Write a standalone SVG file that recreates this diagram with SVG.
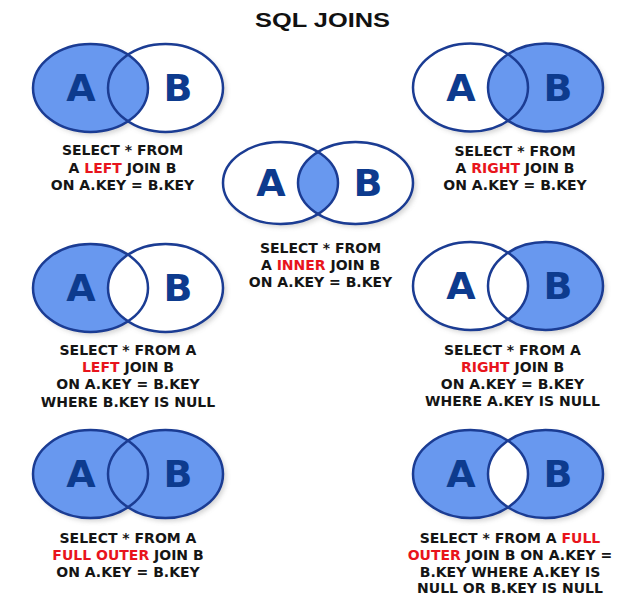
<svg xmlns="http://www.w3.org/2000/svg" xmlns:xlink="http://www.w3.org/1999/xlink" width="641" height="601" viewBox="0 0 641 601">
<style>
.bg{fill:#ffffff}
.fill{fill:#6898ef}
.white{fill:#ffffff}
.ol{fill:none;stroke:#1b3c93;stroke-width:2.5}
.shadow{fill:#9a9a9a;opacity:0.45}
.letter{font-family:"DejaVu Sans",Verdana,sans-serif;font-weight:bold;font-size:38px;fill:#0d3b8e;text-anchor:middle}
.cap{font-family:"DejaVu Sans",Verdana,sans-serif;font-weight:bold;font-size:14px;fill:#151515;text-anchor:middle}
.red{fill:#e8141c}
.title{font-family:"Liberation Sans",Arial,sans-serif;font-weight:bold;font-size:19.5px;fill:#111111;text-anchor:middle}
</style>
<defs>
<ellipse id="eA" cx="0" cy="0" rx="57.5" ry="44"/>
<ellipse id="eB" cx="75" cy="0" rx="57.5" ry="44"/>
<clipPath id="clipA"><ellipse cx="0" cy="0" rx="57.5" ry="44"/></clipPath>
<ellipse id="cA" cx="0" cy="0" rx="57.5" ry="41"/>
<ellipse id="cB" cx="75" cy="0" rx="57.5" ry="41"/>
<clipPath id="clipCA"><ellipse cx="0" cy="0" rx="57.5" ry="41"/></clipPath>
<filter id="blur" x="-20%" y="-20%" width="140%" height="140%"><feGaussianBlur stdDeviation="2.5"/></filter>
<g id="sh"><g class="shadow" filter="url(#blur)" transform="translate(3,3)"><use xlink:href="#eA"/><use xlink:href="#eB"/></g></g>
</defs>
<rect class="bg" x="0" y="0" width="641" height="601"/>
<text class="title" x="322.5" y="27" textLength="135" lengthAdjust="spacingAndGlyphs">SQL JOINS</text>

<g id="left-join">
<g transform="translate(90.5,88)">
<use xlink:href="#sh"/>
<use xlink:href="#eB" class="white"/>
<use xlink:href="#eA" class="fill"/>
<use xlink:href="#eA" class="ol"/><use xlink:href="#eB" class="ol"/>
<text class="letter" x="-9.5" y="13">A</text><text class="letter" x="87.5" y="13">B</text>
</g>
<text class="cap" x="122.5" y="155">SELECT * FROM</text>
<text class="cap" x="122.5" y="172.5">A <tspan class="red">LEFT</tspan> JOIN B</text>
<text class="cap" x="122.5" y="190">ON A.KEY = B.KEY</text>
</g>

<g id="right-join">
<g transform="translate(470.5,87.5)">
<use xlink:href="#sh"/>
<use xlink:href="#eA" class="white"/>
<use xlink:href="#eB" class="fill"/>
<use xlink:href="#eA" class="ol"/><use xlink:href="#eB" class="ol"/>
<text class="letter" x="-9.5" y="13">A</text><text class="letter" x="87.5" y="13">B</text>
</g>
<text class="cap" x="515" y="156">SELECT * FROM</text>
<text class="cap" x="515" y="173">A <tspan class="red">RIGHT</tspan> JOIN B</text>
<text class="cap" x="515" y="190">ON A.KEY = B.KEY</text>
</g>

<g id="inner-join">
<g transform="translate(280.5,183)">
<g class="shadow" filter="url(#blur)" transform="translate(3,3)"><use xlink:href="#cA"/><use xlink:href="#cB"/></g>
<use xlink:href="#cA" class="white"/>
<use xlink:href="#cB" class="white"/>
<use xlink:href="#cB" class="fill" clip-path="url(#clipCA)"/>
<use xlink:href="#cA" class="ol"/><use xlink:href="#cB" class="ol"/>
<text class="letter" x="-9.5" y="13">A</text><text class="letter" x="87.5" y="13">B</text>
</g>
<text class="cap" x="320.5" y="252.5">SELECT * FROM</text>
<text class="cap" x="320.5" y="270">A <tspan class="red">INNER</tspan> JOIN B</text>
<text class="cap" x="320.5" y="287">ON A.KEY = B.KEY</text>
</g>

<g id="left-excl-join">
<g transform="translate(90.5,288)">
<use xlink:href="#sh"/>
<use xlink:href="#eA" class="fill"/>
<use xlink:href="#eB" class="white"/>
<use xlink:href="#eA" class="ol"/><use xlink:href="#eB" class="ol"/>
<text class="letter" x="-9.5" y="13">A</text><text class="letter" x="87.5" y="13">B</text>
</g>
<text class="cap" x="128" y="355">SELECT * FROM A</text>
<text class="cap" x="128" y="372"><tspan class="red">LEFT</tspan> JOIN B</text>
<text class="cap" x="128" y="389">ON A.KEY = B.KEY</text>
<text class="cap" x="128" y="406.5">WHERE B.KEY IS NULL</text>
</g>

<g id="right-excl-join">
<g transform="translate(470.5,286)">
<use xlink:href="#sh"/>
<use xlink:href="#eB" class="fill"/>
<use xlink:href="#eA" class="white"/>
<use xlink:href="#eA" class="ol"/><use xlink:href="#eB" class="ol"/>
<text class="letter" x="-9.5" y="13">A</text><text class="letter" x="87.5" y="13">B</text>
</g>
<text class="cap" x="512.5" y="354.5">SELECT * FROM A</text>
<text class="cap" x="512.5" y="371.5"><tspan class="red">RIGHT</tspan> JOIN B</text>
<text class="cap" x="512.5" y="389">ON A.KEY = B.KEY</text>
<text class="cap" x="512.5" y="406">WHERE A.KEY IS NULL</text>
</g>

<g id="full-outer-join">
<g transform="translate(90.5,474)">
<use xlink:href="#sh"/>
<use xlink:href="#eA" class="fill"/>
<use xlink:href="#eB" class="fill"/>
<use xlink:href="#eA" class="ol"/><use xlink:href="#eB" class="ol"/>
<text class="letter" x="-9.5" y="13">A</text><text class="letter" x="87.5" y="13">B</text>
</g>
<text class="cap" x="128" y="542.5">SELECT * FROM A</text>
<text class="cap" x="128" y="559.5"><tspan class="red">FULL OUTER</tspan> JOIN B</text>
<text class="cap" x="128" y="576.5">ON A.KEY = B.KEY</text>
</g>

<g id="full-outer-excl-join">
<g transform="translate(470.5,474)">
<use xlink:href="#sh"/>
<use xlink:href="#eA" class="fill"/>
<use xlink:href="#eB" class="fill"/>
<use xlink:href="#eB" class="white" clip-path="url(#clipA)"/>
<use xlink:href="#eA" class="ol"/><use xlink:href="#eB" class="ol"/>
<text class="letter" x="-9.5" y="13">A</text><text class="letter" x="87.5" y="13">B</text>
</g>
<text class="cap" x="510" y="542.5">SELECT * FROM A <tspan class="red">FULL</tspan></text>
<text class="cap" x="510" y="559.5"><tspan class="red">OUTER</tspan> JOIN B ON A.KEY =</text>
<text class="cap" x="510" y="576.5">B.KEY WHERE A.KEY IS</text>
<text class="cap" x="510" y="593">NULL OR B.KEY IS NULL</text>
</g>
</svg>
